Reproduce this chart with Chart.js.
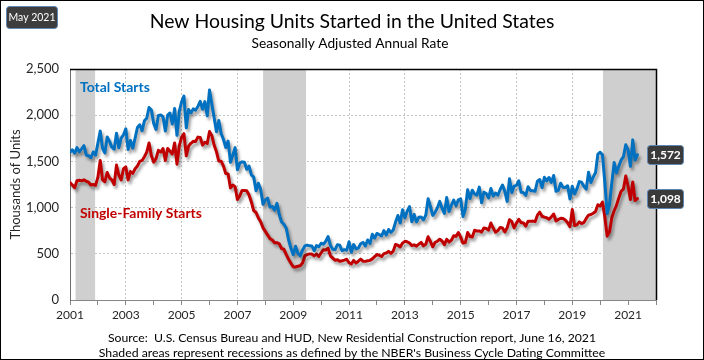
<!DOCTYPE html>
<html><head><meta charset="utf-8">
<script src="https://cdn.jsdelivr.net/npm/chart.js@4.4.1/dist/chart.umd.min.js"></script>
<style>
html,body{margin:0;padding:0;background:#fff;}
#wrap{position:relative;width:704px;height:360px;}
canvas{display:block;}
</style></head><body>
<div id="wrap"><canvas id="c" width="704" height="360"></canvas></div>
<script>
// ---- data (thousands of units, SAAR), monthly from Jan 2001 to May 2021 ----
const startYear = 2001;
const totalStarts = [
1600,1625,1590,1649,1605,1636,1670,1567,1562,1540,1602,1568,
1698,1829,1642,1592,1764,1717,1655,1633,1804,1648,1753,1788,
1853,1629,1726,1643,1751,1867,1897,1833,1939,1967,2083,2057,
1911,1846,1998,2003,1981,1828,2002,2024,1905,2072,1782,2042,
2144,2207,1864,2061,2025,2068,2054,2095,2151,2065,2147,1994,
2273,2119,1969,1821,1942,1802,1737,1650,1720,1491,1570,1649,
1409,1480,1495,1490,1415,1448,1354,1330,1183,1264,1197,1037,
1084,1103,1005,1013,973,1046,923,844,820,777,652,560,
490,582,505,478,540,585,594,586,585,534,589,576,
614,604,636,687,588,549,546,599,592,534,545,539,
630,518,600,554,561,608,623,585,650,611,711,670,
720,708,694,751,704,763,732,758,843,915,833,976,
888,962,1010,847,925,845,895,898,868,918,1097,1010,
916,948,998,1067,995,938,1110,959,1025,1081,1020,1084,
1094,904,981,1194,1098,1188,1148,1135,1222,1053,1167,1152,
1105,1206,1126,1157,1134,1196,1245,1174,1067,1313,1163,1233,
1241,1290,1165,1162,1133,1226,1184,1182,1176,1285,1304,1216,
1328,1290,1326,1273,1347,1177,1186,1264,1219,1217,1236,1094,
1230,1148,1202,1281,1274,1231,1200,1382,1272,1330,1380,1579,
1599,1569,1270,934,1038,1265,1487,1376,1448,1514,1551,1680,
1625,1447,1733,1514,1572
];
const singleFamilyStarts = [
1270,1245,1215,1290,1295,1290,1300,1285,1275,1245,1250,1240,
1330,1510,1300,1280,1380,1320,1300,1250,1460,1350,1300,1420,
1440,1300,1390,1370,1420,1450,1500,1510,1550,1600,1700,1560,
1490,1530,1620,1600,1640,1510,1640,1610,1580,1700,1470,1670,
1760,1800,1560,1665,1696,1718,1715,1763,1758,1676,1707,1694,
1823,1779,1675,1604,1503,1502,1449,1369,1365,1213,1244,1226,
1088,1127,1186,1185,1182,1136,1061,968,947,889,847,781,
743,702,664,650,619,620,608,556,549,492,441,398,
360,357,365,370,401,477,491,499,497,477,497,472,
509,544,541,562,478,454,430,436,419,425,432,441,
403,391,428,401,420,442,420,418,425,429,445,469,
492,484,471,502,508,526,505,529,601,593,574,616,
635,630,617,589,597,583,604,624,586,604,684,633,
576,624,636,658,638,599,657,628,646,695,688,730,
680,616,622,730,686,683,755,746,747,735,779,774,
756,833,779,734,751,785,780,736,781,869,847,780,
832,874,838,833,800,853,851,854,848,918,951,906,
897,891,874,900,931,856,871,884,881,865,836,794,
980,805,813,845,827,840,883,919,925,939,958,1031,
1018,1059,898,691,737,891,966,1024,1105,1176,1201,1341,
1231,1088,1277,1076,1098
];
const xTickYears = [2001,2003,2005,2007,2009,2011,2013,2015,2017,2019,2021];
const yTickValues = [0,500,1000,1500,2000,2500];
const recessions = [[2001.2, 2001.9], [2007.92, 2009.46], [2020.1, 2022]];
const seriesNames = ['Total Starts', 'Single-Family Starts'];
const seriesColors = ['#0070C0', '#C00000'];

const FONT = 'Lato, "Open Sans", sans-serif';
const toPoints = arr => arr.map((v, i) => ({x: startYear + i / 12, y: v}));

function fitFont(ctx, text, weight, targetW, maxSize) {
  let s = maxSize;
  ctx.font = weight + ' ' + s + 'px ' + FONT;
  const w = ctx.measureText(text).width;
  if (w > targetW) s = s * targetW / w;
  ctx.font = weight + ' ' + s.toFixed(2) + 'px ' + FONT;
}
function roundRect(ctx, x, y, w, h, r) {
  ctx.beginPath();
  ctx.moveTo(x + r, y);
  ctx.lineTo(x + w - r, y); ctx.quadraticCurveTo(x + w, y, x + w, y + r);
  ctx.lineTo(x + w, y + h - r); ctx.quadraticCurveTo(x + w, y + h, x + w - r, y + h);
  ctx.lineTo(x + r, y + h); ctx.quadraticCurveTo(x, y + h, x, y + h - r);
  ctx.lineTo(x, y + r); ctx.quadraticCurveTo(x, y, x + r, y);
  ctx.closePath();
}

const recessionPlugin = {
  id: 'recessions',
  beforeDatasetsDraw(chart) {
    const {ctx, chartArea: a, scales: {x}} = chart;
    ctx.save();
    ctx.fillStyle = '#d0cfcf';
    recessions.forEach(([s, e]) => {
      const x1 = Math.max(x.getPixelForValue(s), a.left);
      const x2 = Math.min(x.getPixelForValue(e), a.right);
      ctx.fillRect(x1, a.top, x2 - x1, a.bottom - a.top);
    });
    ctx.restore();
  }
};
const shadowPlugin = {
  id: 'lineShadow',
  beforeDatasetDraw(chart) {
    const ctx = chart.ctx;
    ctx.save();
    ctx.shadowColor = 'rgba(0,0,0,0.38)';
    ctx.shadowBlur = 3;
    ctx.shadowOffsetX = 2;
    ctx.shadowOffsetY = 3;
  },
  afterDatasetDraw(chart) { chart.ctx.restore(); }
};
const annotPlugin = {
  id: 'annot',
  afterDraw(chart) {
    const {ctx, chartArea: a, scales: {y}} = chart;
    ctx.save();
    // plot frame: top and right in black
    ctx.strokeStyle = '#000';
    ctx.lineWidth = 1.5;
    ctx.beginPath();
    ctx.moveTo(a.left, a.top + 0.5); ctx.lineTo(a.right + 0.5, a.top + 0.5); ctx.lineTo(a.right + 0.5, a.bottom);
    ctx.stroke();
    // outer border
    ctx.lineWidth = 1;
    ctx.strokeRect(0.5, 0.5, 703, 359);
    // badge
    roundRect(ctx, 6.5, 6.5, 51, 22, 3);
    ctx.fillStyle = '#3d3d3d'; ctx.fill();
    ctx.strokeStyle = '#5f86b3'; ctx.lineWidth = 1; ctx.stroke();
    ctx.fillStyle = '#fff'; ctx.textAlign = 'center'; ctx.textBaseline = 'middle';
    fitFont(ctx, 'May 2021', '400', 47, 13.5);
    ctx.fillText('May 2021', 32, 18);
    // title & subtitle
    ctx.fillStyle = '#000';
    fitFont(ctx, 'New Housing Units Started in the United States', '400', 405, 21);
    ctx.fillText('New Housing Units Started in the United States', 352, 22);
    fitFont(ctx, 'Seasonally Adjusted Annual Rate', '400', 197, 14);
    ctx.fillText('Seasonally Adjusted Annual Rate', 350, 44);
    // footer
    fitFont(ctx, 'Source:  U.S. Census Bureau and HUD, New Residential Construction report, June 16, 2021', '400', 488, 13);
    ctx.fillText('Source:  U.S. Census Bureau and HUD, New Residential Construction report, June 16, 2021', 352, 338);
    fitFont(ctx, "Shaded areas represent recessions as defined by the NBER's Business Cycle Dating Committee", '400', 507, 13);
    ctx.fillText("Shaded areas represent recessions as defined by the NBER's Business Cycle Dating Committee", 352, 353);
    // series labels
    ctx.textAlign = 'left';
    ctx.fillStyle = seriesColors[0];
    fitFont(ctx, seriesNames[0], '700', 70, 14);
    ctx.fillText(seriesNames[0], 80, 87);
    ctx.fillStyle = seriesColors[1];
    fitFont(ctx, seriesNames[1], '700', 122, 14);
    ctx.fillText(seriesNames[1], 80, 214);
    // end value boxes
    [totalStarts, singleFamilyStarts].forEach(arr => {
      const v = arr[arr.length - 1];
      const py = y.getPixelForValue(v);
      roundRect(ctx, 647.5, Math.round(py) - 9.5, 36, 19, 3);
      ctx.fillStyle = '#3a3a3a'; ctx.fill();
      ctx.strokeStyle = '#5f86b3'; ctx.lineWidth = 1; ctx.stroke();
      ctx.fillStyle = '#fff'; ctx.textAlign = 'center';
      ctx.font = '700 12px ' + FONT;
      ctx.fillText(v.toLocaleString('en-US'), 665.5, Math.round(py) + 0.5);
    });
    ctx.restore();
  }
};

new Chart(document.getElementById('c'), {
  type: 'line',
  data: {
    datasets: [
      {label: seriesNames[0], data: toPoints(totalStarts), borderColor: seriesColors[0], borderWidth: 3, borderJoinStyle: 'round', borderCapStyle: 'round', pointRadius: 0, tension: 0, fill: false},
      {label: seriesNames[1], data: toPoints(singleFamilyStarts), borderColor: seriesColors[1], borderWidth: 3, borderJoinStyle: 'round', borderCapStyle: 'round', pointRadius: 0, tension: 0, fill: false}
    ]
  },
  options: {
    responsive: false, animation: false, devicePixelRatio: 1,
    layout: {padding: {top: 69, right: 48, left: 0, bottom: 0}},
    plugins: {legend: {display: false}, tooltip: {enabled: false}, title: {display: false}},
    scales: {
      x: {
        type: 'linear', min: 2001, max: 2022,
        afterBuildTicks: s => { const t = []; for (let yr = 2001; yr <= 2022; yr++) t.push({value: yr}); s.ticks = t; },
        ticks: {callback: v => xTickYears.includes(v) ? String(v) : '', autoSkip: false, maxRotation: 0, font: {family: FONT, size: 12}, color: '#262626', padding: 3},
        grid: {
          color: c => (c.tick && xTickYears.includes(c.tick.value) && c.tick.value !== 2001) ? '#c4c4c4' : 'rgba(0,0,0,0)',
          tickColor: '#868686', tickLength: 5, lineWidth: 1
        },
        border: {color: '#868686', width: 1, dash: [2, 2]},
        afterFit: s => { s.height = 60; }
      },
      y: {
        min: 0, max: 2500,
        afterBuildTicks: s => { s.ticks = yTickValues.map(v => ({value: v})); },
        ticks: {callback: v => v.toLocaleString('en-US'), font: {family: FONT, size: 13}, color: '#262626', padding: 11},
        grid: {color: c => (c.tick && c.tick.value === 0) ? 'rgba(0,0,0,0)' : '#c4c4c4', drawTicks: false, lineWidth: 1},
        border: {color: '#6e6e6e', width: 1, dash: [2, 2]},
        title: {display: true, text: 'Thousands of Units', font: {family: FONT, size: 13}, color: '#262626', padding: {top: 8, bottom: 0}},
        afterFit: s => { s.width = 70; }
      }
    }
  },
  plugins: [recessionPlugin, shadowPlugin, annotPlugin]
});
</script>
</body></html>
